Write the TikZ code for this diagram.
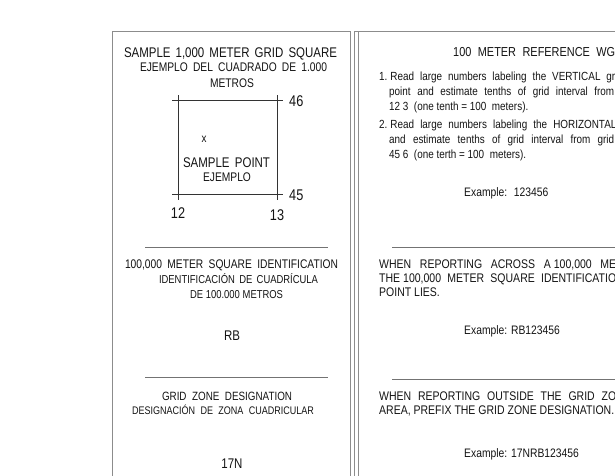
\documentclass[tikz,border=0pt]{standalone}
\usepackage{fontspec}
\setmainfont[FakeStretch=0.82]{Liberation Sans}
\newfontfamily\fliess[FakeStretch=0.84]{Liberation Sans}
\newcommand{\sperr}[2]{\makebox[#1][s]{#2}}
\begin{document}
\begin{tikzpicture}[x=1pt,y=-1pt,
    txt/.style={inner sep=0pt,anchor=base,text=black!92},
    titel/.style={txt,font=\fontsize{14}{16}\selectfont},
    kopf/.style={txt,font=\fontsize{12.5}{15}\selectfont},
    unter/.style={txt,font=\fontsize{11.5}{14}\selectfont},
    zahl/.style={txt,font=\fontsize{15.5}{17}\selectfont},
    zeile/.style={inner sep=0pt,anchor=base west,text=black!92,font=\fliess\fontsize{11.8}{13}\selectfont},
    gzeile/.style={zeile,font=\fliess\fontsize{12.5}{14}\selectfont},
    rahmen/.style={draw=black!45,line width=0.7pt},
    trenn/.style={draw=black!55,line width=0.8pt},
    gitter/.style={draw=black!80,line width=0.8pt}]
    \useasboundingbox (0,0) rectangle (615,475);
    \fill[white] (0,0) rectangle (615,475);
    % Rahmen
    \draw[rahmen] (112,480) -- (112,31) -- (350.5,31) -- (350.5,480);
    \draw[rahmen] (354.5,480) -- (354.5,31) -- (620,31);
    \draw[rahmen] (358.5,480) -- (358.5,31);
    % Beispielquadrat
    \node[titel] (titel) at (230.5,57) {\sperr{213pt}{SAMPLE 1,000 METER GRID SQUARE}};
    \node[unter,font=\fontsize{12.5}{15}\selectfont] (titelb) at (233.5,71.5) {\sperr{187pt}{EJEMPLO DEL CUADRADO DE 1.000}};
    \node[unter,font=\fontsize{12.5}{15}\selectfont] (titelc) at (232,87.5) {METROS};
    \draw[gitter] (172,100) -- (283,100);
    \draw[gitter] (172,194) -- (283,194);
    \draw[gitter] (178,95) -- (178,200);
    \draw[gitter] (277,95) -- (277,200);
    \node[zahl,anchor=base west] (n46) at (289,106.5) {46};
    \node[zahl,anchor=base west] (n45) at (289,200.5) {45};
    \node[zahl] (n12) at (178,218.5) {12};
    \node[zahl] (n13) at (277,220.5) {13};
    \node[txt,font=\fontsize{12}{14}\selectfont] (punkt) at (204,142) {x};
    \node[titel] (spunkt) at (226.5,167) {\sperr{87pt}{SAMPLE POINT}};
    \node[unter,font=\fontsize{12.5}{15}\selectfont] (ejemplo) at (227,181.5) {EJEMPLO};
    % 100.000 m Quadrat
    \draw[trenn] (145,247) -- (328,247);
    \node[kopf] (qkopf) at (231.5,268) {\sperr{213pt}{100,000 METER SQUARE IDENTIFICATION}};
    \node[unter] (qkopfb) at (238.5,283.5) {\sperr{159pt}{IDENTIFICACIÓN DE CUADRÍCULA}};
    \node[unter] (qkopfc) at (236.5,298.5) {\sperr{93pt}{DE 100.000 METROS}};
    \node[zahl,font=\fontsize{14}{16}\selectfont] (rb) at (232,340) {RB};
    % Zone
    \draw[trenn] (145,377) -- (328,377);
    \node[kopf,font=\fontsize{12}{15}\selectfont] (zkopf) at (227,400) {\sperr{130pt}{GRID ZONE DESIGNATION}};
    \node[unter,font=\fontsize{11}{14}\selectfont] (zkopfb) at (223,414.5) {\sperr{182pt}{DESIGNACIÓN DE ZONA CUADRICULAR}};
    \node[zahl,font=\fontsize{14}{16}\selectfont] (zone) at (232,468) {17N};
    % rechte Spalte
    \node[zeile,font=\fliess\fontsize{13}{15}\selectfont] (rkopf) at (453,56.6) {\sperr{162pt}{100 METER REFERENCE WG}};
    \node[zeile] (ea) at (379,80) {1.\hspace{3pt}\sperr{227pt}{Read large numbers labeling the VERTICAL gri}};
    \node[zeile] (eb) at (389,95) {\sperr{225pt}{point and estimate tenths of grid interval from}};
    \node[zeile] (ec) at (389,110) {12 3 \ (one tenth = 100 \ meters).};
    \node[zeile] (za) at (379,128) {2.\hspace{3pt}\sperr{226pt}{Read large numbers labeling the HORIZONTAL}};
    \node[zeile] (zb) at (389,143) {\sperr{225pt}{and estimate tenths of grid interval from grid}};
    \node[zeile] (zc) at (389,158) {45 6 \ (one terth = 100 \ meters).};
    \node[zeile,font=\fliess\fontsize{12.3}{14}\selectfont] (bsp) at (464,196) {Example: \ 123456};
    \draw[trenn] (392,247) -- (620,247);
    \node[gzeile] (qa) at (379,268) {\sperr{237pt}{WHEN REPORTING ACROSS A\hspace{3pt}100,000 ME}};
    \node[gzeile] (qb) at (379,282) {\sperr{237pt}{THE\hspace{3pt}100,000 METER SQUARE IDENTIFICATIO}};
    \node[gzeile] (qc) at (379,296) {POINT LIES.};
    \node[zeile,font=\fliess\fontsize{12.3}{14}\selectfont] (bspq) at (464,334) {Example: RB123456};
    \draw[trenn] (392,379) -- (620,379);
    \node[gzeile] (za2) at (379,400) {\sperr{237pt}{WHEN REPORTING OUTSIDE THE GRID ZO}};
    \node[gzeile] (zb2) at (379,414) {\sperr{235pt}{AREA, PREFIX THE GRID ZONE DESIGNATION.}};
    \node[zeile,font=\fliess\fontsize{12.3}{14}\selectfont] (bspz) at (464,457) {Example: 17NRB123456};
\end{tikzpicture}
\end{document}
